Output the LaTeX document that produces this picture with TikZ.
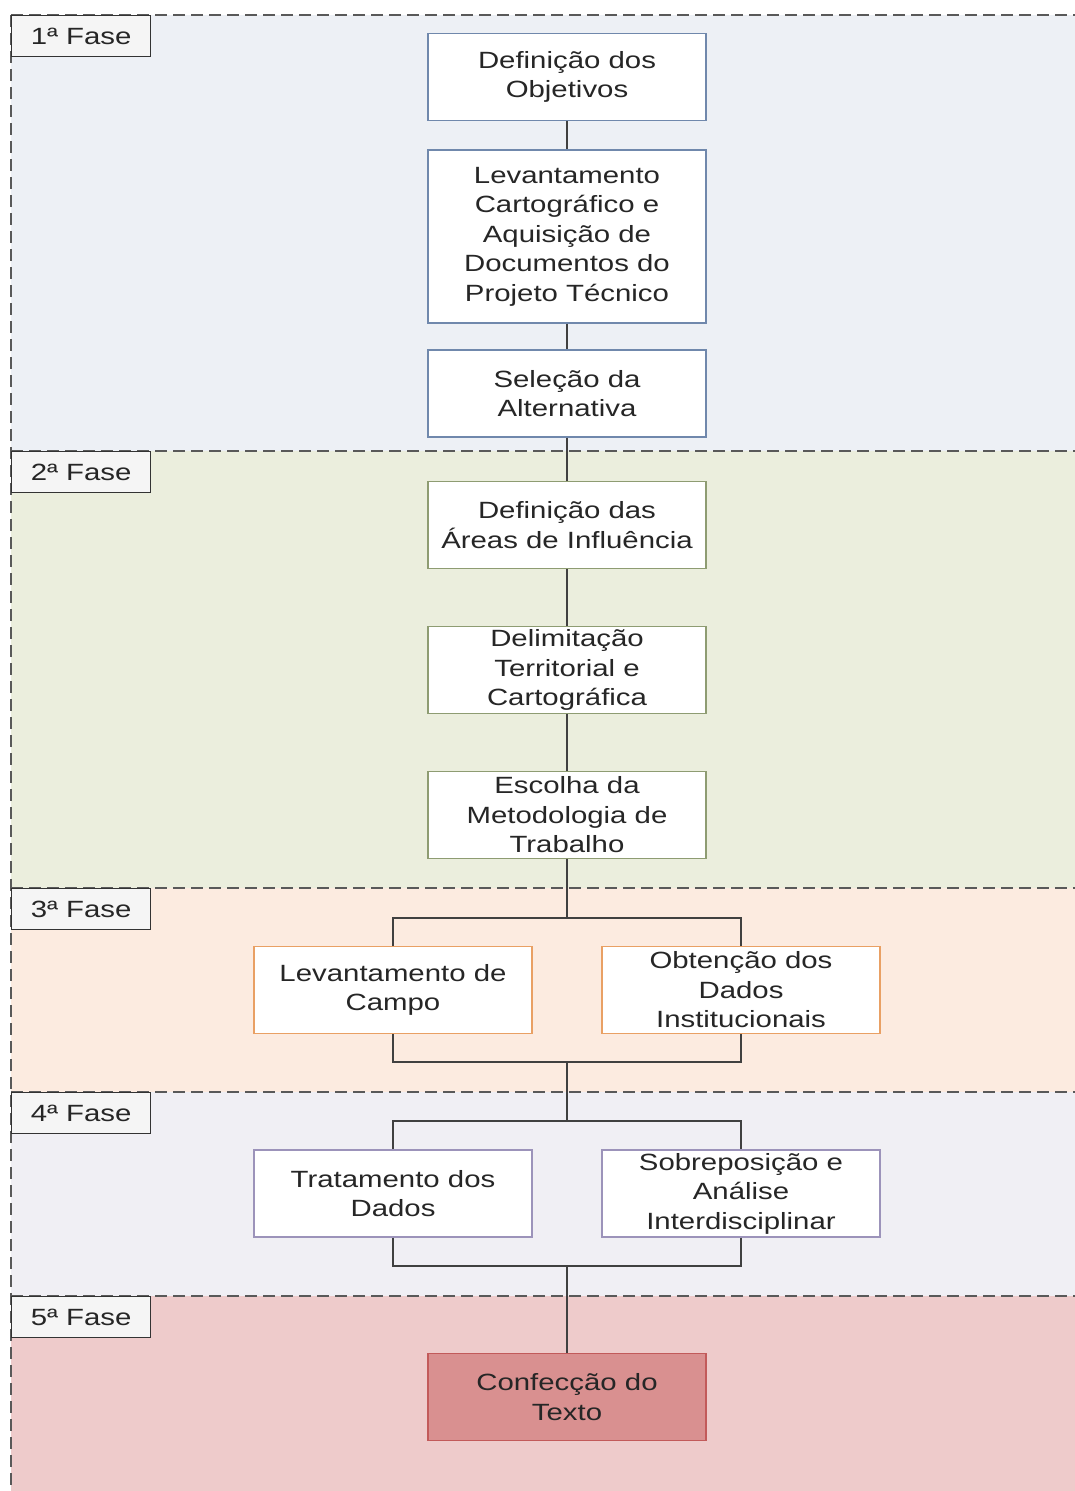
\documentclass[tikz,border=0pt]{standalone}
\usepackage{fontspec}
\setmainfont{Liberation Sans}[FakeStretch=1.25]
\begin{document}
\begin{tikzpicture}[x=1pt,y=-1pt,
  every node/.style={font=\fontsize{23.5}{29.5}\selectfont, text=black!85},
  sep/.style={draw=black!65, line width=2pt, dash pattern=on 12pt off 6pt},
  phase/.style={draw=black!80, line width=1.4pt, fill=black!4, anchor=north west, minimum width=139pt, minimum height=41pt, inner sep=0pt},
  boxbase/.style={fill=white, line width=1.3pt, align=center, minimum width=278pt, minimum height=87pt, inner sep=0pt},
  box1/.style={boxbase, draw=c1},
  box2/.style={boxbase, draw=c2},
  box3/.style={boxbase, draw=c3},
  box4/.style={boxbase, draw=c4},
  box5/.style={boxbase, draw=c5, fill=f5},
  link/.style={draw=black!75, line width=1.6pt}
]
\definecolor{b1}{HTML}{EDF0F5}
\definecolor{b2}{HTML}{EBEEDD}
\definecolor{b3}{HTML}{FCEBE0}
\definecolor{b4}{HTML}{F0EFF4}
\definecolor{b5}{HTML}{EECBCB}
\definecolor{c1}{HTML}{7088AC}
\definecolor{c2}{HTML}{8E9C72}
\definecolor{c3}{HTML}{E9A064}
\definecolor{c4}{HTML}{9C93BA}
\definecolor{c5}{HTML}{C25A5A}
\definecolor{f5}{HTML}{D99090}
\useasboundingbox (0,0) rectangle (1075,1491);
\fill[white] (0,0) rectangle (1075,1491);
% bands
\fill[b1] (11,15) rectangle (1075,451);
\fill[b2] (11,451) rectangle (1075,888);
\fill[b3] (11,888) rectangle (1075,1092);
\fill[b4] (11,1092) rectangle (1075,1296);
\fill[b5] (11,1296) rectangle (1075,1491);
% separators
\draw[sep] (11,15) -- (1075,15);
\draw[sep] (11,451) -- (1075,451);
\draw[sep] (11,888) -- (1075,888);
\draw[sep] (11,1092) -- (1075,1092);
\draw[sep] (11,1296) -- (1075,1296);
\draw[sep] (11,15) -- (11,1491);
% phase labels
\node[phase] (p1) at (11,15) {1ª Fase};
\node[phase] (p2) at (11,451) {2ª Fase};
\node[phase] (p3) at (11,888) {3ª Fase};
\node[phase] (p4) at (11,1092) {4ª Fase};
\node[phase] (p5) at (11,1296) {5ª Fase};
% boxes
\node[box1] (n1) at (567,77) {Definição dos\\Objetivos};
\node[box1, minimum height=173pt] (n2) at (567,236.5) {Levantamento\\Cartográfico e\\Aquisição de\\Documentos do\\Projeto Técnico};
\node[box1] (n3) at (567,393.5) {Seleção da\\Alternativa};
\node[box2] (n4) at (567,525) {Definição das\\Áreas de Influência};
\node[box2] (n5) at (567,670) {Delimitação\\Territorial e\\Cartográfica};
\node[box2] (n6) at (567,815) {Escolha da\\Metodologia de\\Trabalho};
\node[box3] (n7) at (393,990) {Levantamento de\\Campo};
\node[box3] (n8) at (741,990) {Obtenção dos\\Dados\\Institucionais};
\node[box4] (n9) at (393,1193.5) {Tratamento dos\\Dados};
\node[box4] (n10) at (741,1193.5) {Sobreposição e\\Análise\\Interdisciplinar};
\node[box5] (n11) at (567,1397) {Confecção do\\Texto};
% connector coordinates
\coordinate (fA) at (567,918);
\coordinate (jA) at (567,1062);
\coordinate (fB) at (567,1121);
\coordinate (jB) at (567,1266);
% connectors
\draw[link] (n1) -- (n2);
\draw[link] (n2) -- (n3);
\draw[link] (n3) -- (n4);
\draw[link] (n4) -- (n5);
\draw[link] (n5) -- (n6);
\draw[link] (n6) -- (fA);
\draw[link] (fA) -| (n7.north);
\draw[link] (fA) -| (n8.north);
\draw[link] (n7.south) |- (jA);
\draw[link] (n8.south) |- (jA);
\draw[link] (jA) -- (fB);
\draw[link] (fB) -| (n9.north);
\draw[link] (fB) -| (n10.north);
\draw[link] (n9.south) |- (jB);
\draw[link] (n10.south) |- (jB);
\draw[link] (jB) -- (n11);
\end{tikzpicture}
\end{document}
